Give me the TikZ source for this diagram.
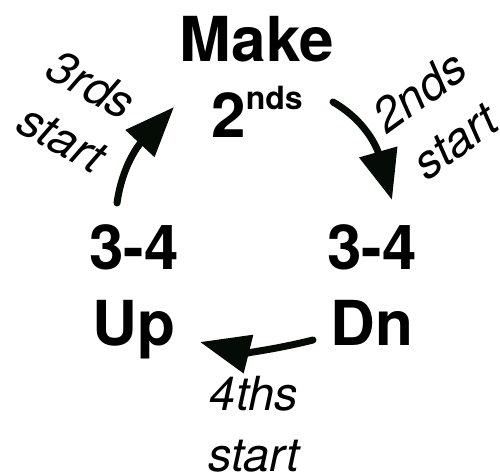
\documentclass[tikz,border=0pt]{standalone}
\usepackage{fontspec}
\setmainfont{TeX Gyre Heros}
\usetikzlibrary{arrows.meta}
\definecolor{arrowc}{RGB}{5,12,5}
\begin{document}
\begin{tikzpicture}[x=1pt,y=1pt,
  big/.style={font=\bfseries\fontsize{62}{76}\selectfont, align=center, inner sep=0pt, anchor=base},
  lab/.style={font=\itshape\fontsize{47}{61}\selectfont, align=center, inner sep=0pt},
  cyc/.style={draw=arrowc, line width=7pt, line cap=round, -{Triangle[length=50pt,width=38pt]}}]
\useasboundingbox (0,0) rectangle (500,474);
\node[big] (make) at (257,336) {Make\\2\raisebox{28pt}{\fontsize{32}{32}\selectfont nds}};
\node[big] (up) at (134,129) {3-4\\Up};
\node[big] (dn) at (372,129) {3-4\\Dn};
\node[lab, rotate=-29] (l3) at (77,363) {3rds\\start};
\node[lab, rotate=36] (l2) at (437,358) {2nds\\start};
\node[lab, anchor=base] (l4) at (254,3) {4ths\\start};
\coordinate (a1s) at (117,271);
\coordinate (a1e) at (174,367);
\coordinate (a2s) at (333,372);
\coordinate (a2e) at (392,274);
\coordinate (a3s) at (313,134);
\coordinate (a3e) at (200,132);
\draw[cyc] (a1s) to[out=82, in=227] (a1e);
\draw[cyc] (a2s) to[out=-30, in=106] (a2e);
\draw[cyc] (a3s) to[out=-166, in=-14] (a3e);
\end{tikzpicture}
\end{document}
